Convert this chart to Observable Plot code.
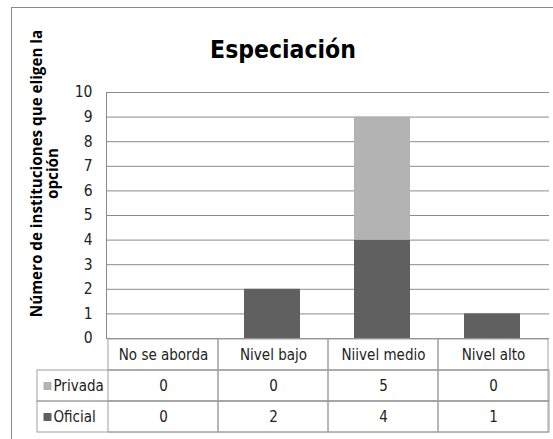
<!DOCTYPE html>
<html>
<head>
<meta charset="utf-8">
<script src="https://cdn.jsdelivr.net/npm/d3@7"></script>
<script src="https://cdn.jsdelivr.net/npm/@observablehq/plot@0.6"></script>
<style>
  html, body { margin: 0; padding: 0; background: #fff; overflow: hidden; }
  #wrap { position: relative; width: 553px; height: 439px; overflow: hidden; }
  #border { position: absolute; left: 11px; top: 7px; width: 560px; height: 460px; border: 1.5px solid #8a8a8a; box-sizing: border-box; }
  #chart { position: absolute; left: 0; top: 0; }
  #table { position: absolute; left: 0; top: 338px; }
  svg { overflow: visible; }
</style>
</head>
<body>
<div id="wrap">
  <div id="border"></div>
  <div id="chart"></div>
  <div id="table"></div>
</div>
<script>
const title = "Especiación";
const yLabel = "Número de instituciones que eligen la\nopción";
const categories = ["No se aborda", "Nivel bajo", "Niivel medio", "Nivel alto"];
const seriesNames = ["Privada", "Oficial"];
const privada = [0, 0, 5, 0];
const oficial = [0, 2, 4, 1];
const yTicks = [0, 1, 2, 3, 4, 5, 6, 7, 8, 9, 10];
const colors = ["#b3b3b3", "#606060"];

const FONT = "'DejaVu Sans Condensed', 'Liberation Sans Narrow', Roboto, sans-serif";

const values = {Privada: privada, Oficial: oficial};
const rows = [];
for (const s of ["Oficial", "Privada"]) {
  categories.forEach((c, i) => rows.push({cat: c, series: s, value: values[s][i]}));
}

const chart = Plot.plot({
  width: 553,
  height: 338,
  marginTop: 92,
  marginBottom: 0,
  marginLeft: 106,
  marginRight: 4,
  style: {fontFamily: FONT, fontSize: "15px", color: "#000", background: "transparent"},
  x: {domain: categories, paddingInner: 0.49, paddingOuter: 0.245, axis: null},
  y: {domain: [0, 10], axis: null},
  color: {domain: seriesNames, range: colors},
  marks: [
    Plot.ruleY(yTicks, {stroke: "#8a8a8a", strokeOpacity: 1}),
    Plot.frame({anchor: "left", stroke: "#8a8a8a", strokeOpacity: 1}),
    Plot.axisY(yTicks, {tickSize: 0, tickPadding: 14, label: null, tickFormat: d3.format("d"),
      fontSize: 15.5, fill: "#222"}),
    Plot.barY(rows, Plot.stackY({order: ["Oficial", "Privada"]}, {x: "cat", y: "value", fill: "series"})),
    Plot.text([title], {text: d => d, frameAnchor: "top", lineAnchor: "bottom", dx: -45, dy: -35,
      fontSize: 24.5, fontWeight: "bold", fill: "#000"}),
    Plot.text([yLabel], {text: d => d, frameAnchor: "left", rotate: -90, textAnchor: "middle", lineAnchor: "middle",
      dx: -62, dy: -42, fontSize: 15.2, fontWeight: "bold", lineHeight: 1.08, fill: "#000",
      fontFamily: "'Open Sans', sans-serif"})
  ]
});
document.getElementById("chart").appendChild(chart);

const rowKeys = ["", ...seriesNames];
const gridCells = [];
for (const r of rowKeys) for (const c of categories) gridCells.push({cat: c, row: r});

const table = Plot.plot({
  width: 553,
  height: 101,
  marginTop: 0,
  marginBottom: 7,
  marginLeft: 37,
  marginRight: 4,
  style: {fontFamily: FONT, fontSize: "15px", color: "#000", background: "transparent"},
  x: {domain: categories, range: [106, 549], padding: 0, axis: null},
  y: {domain: rowKeys, padding: 0, axis: null},
  color: {domain: seriesNames, range: colors},
  marks: [
    Plot.cell(seriesNames, {y: d => d, fill: "none", stroke: "#a0a0a0"}),
    Plot.cell(gridCells, {x: "cat", y: "row", fill: "none", stroke: "#a0a0a0"}),
    Plot.text(categories, {x: d => d, y: () => "", text: d => d, fill: "#222"}),
    Plot.text(rows, {x: "cat", y: "series", text: "value", fill: "#222"}),
    Plot.dot(seriesNames, {y: d => d, frameAnchor: "left", dx: 10, symbol: "square", r: 4.5, fill: d => d, stroke: "none"}),
    Plot.text(seriesNames, {y: d => d, text: d => d, frameAnchor: "left", textAnchor: "start", dx: 16, fill: "#222"})
  ]
});
document.getElementById("table").appendChild(table);
</script>
</body>
</html>
